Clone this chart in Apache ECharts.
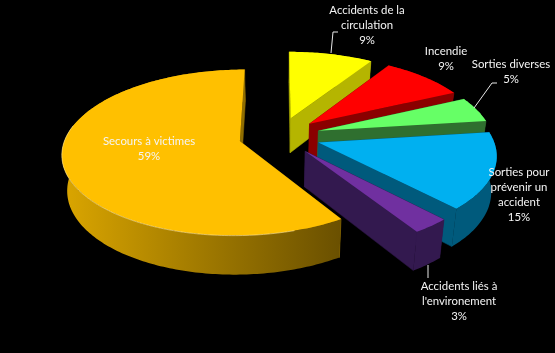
<!DOCTYPE html>
<html>
<head>
<meta charset="utf-8">
<script src="https://cdn.jsdelivr.net/npm/echarts@6/dist/echarts.min.js"></script>
<style>
html, body { margin: 0; background: #000; }
#main { width: 555px; height: 353px; }
</style>
</head>
<body>
<div id="main"></div>
<script>
// data, clockwise from 12 o'clock
const categories = ['Accidents de la\ncirculation', 'Incendie', 'Sorties diverses', 'Sorties pour\nprévenir un\naccident', 'Accidents liés à\nl\'environement', 'Secours à victimes']
const percents = [9, 9, 5, 15, 3, 59]

const topColors = ['#ffff00', '#ff0000', '#66ff66', '#00b0f0', '#7030a0', '#ffc000']
const sideColors = ['#b5b500', '#8a0000', '#2f6f2f', '#005a7c', '#33194f', '#b08600']

// projection of the tilted pie
const CX = 279.5, CY = 136, R = 174
const TILT = 0.46, PERSP = 0.135, EXPLODE = 0.235, DEPTH = 35

function project(u, v, bottom) {
  let s = 1 / (1 - PERSP * v)
  let x = CX + R * u * s
  let y = CY + R * TILT * v * s
  if (bottom) {
    x -= (x - 275) * 0.025
    y += DEPTH * Math.pow(s, 0.7)
  }
  return [x, y]
}

const total = percents.reduce((a, b) => a + b, 0)

function renderSlice(params, api) {
  let i = params.dataIndex
  let before = 0
  for (let k = 0; k < i; k++) before += percents[k]
  let a0 = before / total * Math.PI * 2
  let a1 = (before + api.value(0)) / total * Math.PI * 2
  let mid = (a0 + a1) / 2
  let ex = EXPLODE * Math.sin(mid), ey = -EXPLODE * Math.cos(mid)

  let topArc = [], bottomArc = []
  let steps = Math.ceil((a1 - a0) / (Math.PI / 180))
  for (let k = 0; k <= steps; k++) {
    let a = a0 + (a1 - a0) * k / steps
    topArc.push(project(ex + Math.sin(a), ey - Math.cos(a), false))
    bottomArc.push(project(ex + Math.sin(a), ey - Math.cos(a), true))
  }
  let apexTop = project(ex, ey, false)
  let apexBottom = project(ex, ey, true)

  let sideFill = sideColors[i]
  let rimFill = sideFill
  if (i === 5) {
    // the big slice has a shaded rim
    rimFill = new echarts.graphic.LinearGradient(0, 0, 1, 0, [
      { offset: 0, color: '#dba600' },
      { offset: 0.45, color: '#a67e00' },
      { offset: 1, color: '#6a5000' }
    ])
  }

  let face = (corner, cornerBottom, fill) => ({
    type: 'polygon',
    shape: { points: [apexTop, corner, cornerBottom, apexBottom] },
    style: { fill: fill, stroke: fill, lineWidth: 0.5 }
  })

  let children = [
    face(topArc[0], bottomArc[0], sideFill),
    face(topArc[steps], bottomArc[steps], i === 5 ? '#8f6d00' : sideFill),
    {
      type: 'polygon',
      shape: { points: topArc.concat(bottomArc.slice().reverse()) },
      style: { fill: rimFill }
    },
    {
      type: 'polygon',
      shape: { points: [apexTop].concat(topArc) },
      style: { fill: topColors[i] }
    }
  ]
  if (i === 5) {
    // faint bevel along the front edge
    children.push({
      type: 'polyline',
      shape: { points: topArc.slice(15, 135) },
      style: { stroke: 'rgba(255,232,160,0.6)', lineWidth: 1, fill: null }
    })
  }
  return { type: 'group', children: children }
}

// label anchors, same order as categories (x, y of the first line centre)
const labelPos = [[367, 11], [446, 52], [511, 65], [519, 173], [459, 287], [149, 142]]

const leaderLines = [
  [[331, 53], [333, 32], [338, 32]],
  [[474, 108], [492, 83], [497, 83]],
  [[428, 265], [428, 278]]
]

let graphics = []
categories.forEach((name, i) => {
  graphics.push({
    type: 'text',
    x: labelPos[i][0],
    y: labelPos[i][1] - 8,
    z: 10,
    style: {
      text: name + '\n' + percents[i] + '%',
      fill: '#f4f4f4',
      font: '11.4px Lato',
      lineHeight: 15,
      textAlign: 'center',
      textVerticalAlign: 'top'
    }
  })
})
leaderLines.forEach(points => {
  graphics.push({
    type: 'polyline',
    z: 10,
    shape: { points: points },
    style: { stroke: '#e8e8e8', lineWidth: 1, fill: null }
  })
})

let myChart = echarts.init(document.getElementById('main'), null, { renderer: 'canvas' })
myChart.setOption({
  backgroundColor: '#000',
  animation: false,
  series: [{
    type: 'custom',
    coordinateSystem: 'none',
    renderItem: renderSlice,
    data: percents.map(p => [p]),
    silent: true
  }],
  graphic: graphics
})
</script>
</body>
</html>
